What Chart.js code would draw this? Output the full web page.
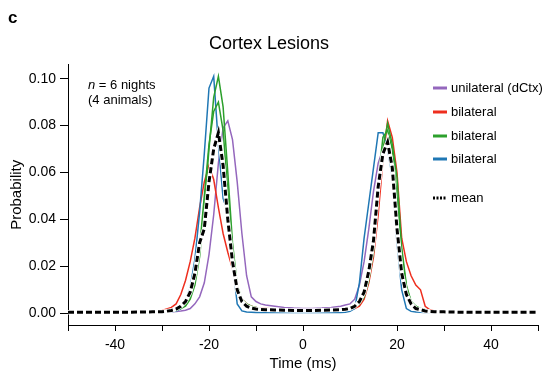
<!DOCTYPE html>
<html>
<head>
<meta charset="utf-8">
<script src="https://cdn.jsdelivr.net/npm/chart.js@4.4.1/dist/chart.umd.min.js"></script>
<style>
  html, body { margin: 0; padding: 0; background: #fff; }
</style>
</head>
<body>
<canvas id="lagChart" width="545" height="375"></canvas>
<script>
const FONT = "'Liberation Sans', Arial, sans-serif";

// time bins (ms)
const times = [-50, -45, -40, -35, -32,
  -30, -29, -28, -27, -26, -25, -24, -23, -22, -21, -20, -19, -18, -17, -16, -15, -14, -13, -12, -11, -10, -9, -8,
  -6, -4, -2, 0, 2, 4, 6,
  8, 9, 10, 11, 12, 13, 14, 15, 16, 17, 18, 19, 20, 21, 22, 23, 24, 25, 26, 27, 28, 29, 30,
  32, 35, 40, 45, 50];

const unilateral = [0.0003, 0.0003, 0.0004, 0.0004, 0.0005,
  0.0005, 0.0006, 0.0007, 0.0008, 0.001, 0.0013, 0.002, 0.004, 0.007, 0.013, 0.025, 0.042, 0.064, 0.079, 0.082, 0.074, 0.056, 0.034, 0.016, 0.007, 0.005, 0.004, 0.0035,
  0.003, 0.0025, 0.0022, 0.002, 0.002, 0.0022, 0.0025,
  0.003, 0.0035, 0.004, 0.006, 0.012, 0.022, 0.036, 0.052, 0.064, 0.07, 0.071, 0.064, 0.04, 0.02, 0.008, 0.004, 0.002, 0.0012, 0.0008, 0.0006, 0.0005, 0.0005, 0.0004,
  0.0004, 0.0003, 0.0003, 0.0003, 0.0003];

const bilateralRed = [0.0005, 0.0004, 0.0005, 0.0006, 0.0008,
  0.0012, 0.0018, 0.0025, 0.004, 0.008, 0.014, 0.022, 0.032, 0.045, 0.056, 0.063, 0.057, 0.045, 0.034, 0.026, 0.019, 0.011, 0.006, 0.004, 0.003, 0.0025, 0.002, 0.002,
  0.0018, 0.0015, 0.0015, 0.0014, 0.0014, 0.0015, 0.0016,
  0.0016, 0.0017, 0.0018, 0.002, 0.003, 0.006, 0.013, 0.024, 0.042, 0.065, 0.082, 0.075, 0.06, 0.032, 0.022, 0.016, 0.012, 0.01, 0.003, 0.0015, 0.001, 0.0008, 0.0007,
  0.0006, 0.0005, 0.0005, 0.0004, 0.0004];

const bilateralGreenA = [0.0005, 0.0005, 0.0005, 0.0005, 0.0005,
  0.0006, 0.0007, 0.0009, 0.0012, 0.002, 0.003, 0.006, 0.012, 0.024, 0.045, 0.07, 0.092, 0.101, 0.088, 0.06, 0.03, 0.012, 0.005, 0.003, 0.0022, 0.002, 0.0018, 0.0016,
  0.0015, 0.0014, 0.0014, 0.0013, 0.0013, 0.0014, 0.0015,
  0.0016, 0.0018, 0.002, 0.0025, 0.004, 0.007, 0.014, 0.026, 0.05, 0.07, 0.081, 0.072, 0.058, 0.028, 0.012, 0.005, 0.003, 0.002, 0.0015, 0.0012, 0.001, 0.0009, 0.0008,
  0.0007, 0.0006, 0.0005, 0.0005, 0.0005];

const bilateralGreenB = [0.0005, 0.0005, 0.0005, 0.0005, 0.0005,
  0.0006, 0.0008, 0.001, 0.0014, 0.0022, 0.0035, 0.007, 0.014, 0.028, 0.05, 0.072, 0.086, 0.09, 0.078, 0.052, 0.027, 0.012, 0.006, 0.004, 0.003, 0.0025, 0.002, 0.0018,
  0.0016, 0.0015, 0.0015, 0.0014, 0.0014, 0.0015, 0.0016,
  0.0017, 0.002, 0.0025, 0.003, 0.005, 0.009, 0.018, 0.032, 0.056, 0.075, 0.078, 0.07, 0.05, 0.026, 0.011, 0.005, 0.003, 0.002, 0.0015, 0.0012, 0.001, 0.0009, 0.0008,
  0.0007, 0.0006, 0.0005, 0.0005, 0.0005];

const bilateralBlue = [0.0002, 0.0002, 0.0002, 0.0002, 0.0002,
  0.0003, 0.0004, 0.0006, 0.001, 0.002, 0.005, 0.011, 0.023, 0.043, 0.068, 0.096, 0.101, 0.072, 0.049, 0.043, 0.022, 0.004, 0.001, 0.0005, 0.0004, 0.0003, 0.0003, 0.0003,
  0.0003, 0.0003, 0.0003, 0.0003, 0.0003, 0.0003, 0.0003,
  0.0003, 0.0004, 0.0008, 0.002, 0.013, 0.032, 0.047, 0.062, 0.077, 0.077, 0.07, 0.058, 0.03, 0.01, 0.002, 0.0008, 0.0005, 0.0004, 0.0003, 0.0003, 0.0003, 0.0003, 0.0003,
  0.0003, 0.0003, 0.0003, 0.0003, 0.0003];

const meanAll = [0.0004, 0.0004, 0.0004, 0.0005, 0.0006,
  0.0007, 0.0009, 0.0012, 0.0018, 0.003, 0.005, 0.009, 0.017, 0.03, 0.036, 0.056, 0.07, 0.077, 0.063, 0.04, 0.022, 0.01, 0.005, 0.003, 0.0022, 0.0018, 0.0016, 0.0015,
  0.0014, 0.0013, 0.0012, 0.0012, 0.0012, 0.0013, 0.0014,
  0.0015, 0.0017, 0.002, 0.003, 0.005, 0.009, 0.018, 0.031, 0.054, 0.068, 0.073, 0.062, 0.036, 0.017, 0.008, 0.004, 0.002, 0.0015, 0.001, 0.0008, 0.0007, 0.0006, 0.0006,
  0.0005, 0.0004, 0.0004, 0.0004, 0.0004];

const xTicks = [-50, -40, -30, -20, -10, 0, 10, 20, 30, 40, 50];
const xLabels = [-40, -20, 0, 20, 40];
const yTicks = [0, 0.02, 0.04, 0.06, 0.08, 0.10];
const legendLabels = ["unilateral (dCtx)", "bilateral", "bilateral", "bilateral", "mean"];

const PURPLE = "#9467bd", RED = "#ee2e1e", GREEN = "#2ca02c", BLUE = "#1f77b4";

function line(values, color, width) {
  return {
    data: times.map((t, i) => ({ x: t, y: values[i] })),
    borderColor: color,
    borderWidth: width,
    pointRadius: 0,
    fill: false,
    tension: 0
  };
}

const meanDash = line(meanAll, "#000", 3);
meanDash.borderDash = [6, 3];

// text + legend drawn on top of the plot
const overlay = {
  id: "overlay",
  afterDraw(chart) {
    const c = chart.ctx;
    c.save();
    c.fillStyle = "#000";
    c.textBaseline = "middle";
    c.textAlign = "left";
    c.font = "bold 17px " + FONT;
    c.fillText("c", 8, 18);

    c.font = "italic 13px " + FONT;
    c.fillText("n", 88, 85);
    const nw = c.measureText("n").width;
    c.font = "13px " + FONT;
    c.fillText(" = 6 nights", 88 + nw, 85);
    c.fillText("(4 animals)", 88, 100);

    const colors = [PURPLE, RED, GREEN, BLUE, "#000"];
    const rows = [88, 112, 136, 159, 198];
    legendLabels.forEach((lab, i) => {
      c.beginPath();
      c.strokeStyle = colors[i];
      c.lineWidth = 3;
      c.setLineDash(i === 4 ? [2, 1.5] : []);
      c.moveTo(433, rows[i]);
      c.lineTo(447, rows[i]);
      c.stroke();
      c.fillText(lab, 451, rows[i]);
    });
    c.restore();
  }
};

new Chart(document.getElementById("lagChart"), {
  type: "line",
  data: {
    datasets: [
      meanDash,
      line(meanAll, "#fff", 4.5),
      line(bilateralGreenA, GREEN, 1.5),
      line(bilateralGreenB, GREEN, 1.5),
      line(bilateralBlue, BLUE, 1.5),
      line(bilateralRed, RED, 1.5),
      line(unilateral, PURPLE, 1.5)
    ]
  },
  options: {
    responsive: false,
    animation: false,
    layout: { padding: { left: 0, right: 7, top: 0, bottom: 0 } },
    plugins: {
      legend: { display: false },
      tooltip: { enabled: false },
      title: {
        display: true,
        text: "Cortex Lesions",
        color: "#000",
        font: { size: 18, weight: "normal", family: FONT },
        padding: { top: 33, bottom: 10 }
      }
    },
    scales: {
      x: {
        type: "linear",
        min: -50,
        max: 50,
        afterBuildTicks: s => { s.ticks = xTicks.map(v => ({ value: v })); },
        afterFit: s => { s.height = 50; },
        ticks: {
          callback: v => xLabels.includes(v) ? String(v) : "",
          autoSkip: false,
          maxRotation: 0,
          color: "#000",
          font: { size: 14, family: FONT },
          padding: 6
        },
        grid: { drawOnChartArea: false, tickLength: 6, tickColor: "#000" },
        border: { color: "#000", width: 1 },
        title: { display: true, text: "Time (ms)", color: "#000", font: { size: 15, family: FONT }, padding: { bottom: 2 } }
      },
      y: {
        min: -0.005,
        max: 0.106,
        afterBuildTicks: s => { s.ticks = yTicks.map(v => ({ value: v })); },
        afterFit: s => { s.width = 68; },
        ticks: {
          callback: v => v.toFixed(2),
          color: "#000",
          font: { size: 14, family: FONT },
          padding: 4
        },
        grid: { drawOnChartArea: false, tickLength: 8, tickColor: "#000" },
        border: { color: "#000", width: 1 },
        title: { display: true, text: "Probability", color: "#000", font: { size: 15, family: FONT }, padding: { top: 8 } }
      }
    }
  },
  plugins: [overlay]
});
</script>
</body>
</html>
